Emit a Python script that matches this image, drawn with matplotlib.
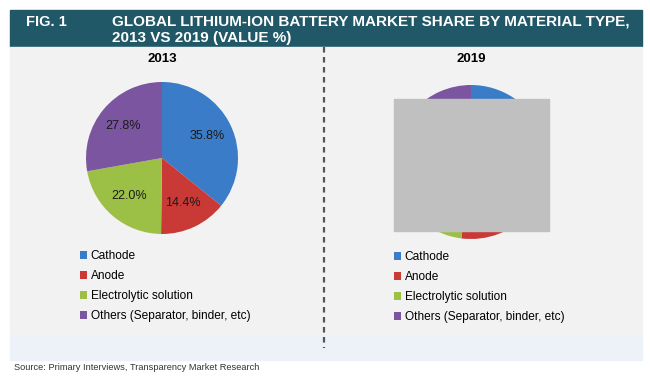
import numpy as np
import matplotlib.pyplot as plt
from matplotlib.patches import Rectangle

# --- Datos ---
categorias = ['Cathode', 'Anode', 'Electrolytic solution', 'Others (Separator, binder, etc)']
valores_2013 = [35.8, 14.4, 22.0, 27.8]
valores_2019 = [36.5, 15.5, 21.5, 26.5]  # oculto bajo el recuadro gris, estimado
colores = ['#3b7cc8', '#c93a36', '#9cc045', '#7b55a0']
anios = ['2013', '2019']

W, H = 650, 381
plt.rcParams['font.family'] = ['Liberation Sans', 'DejaVu Sans']

fig = plt.figure(figsize=(W / 100, H / 100), dpi=100)
fondo = fig.add_axes([0, 0, 1, 1])
fondo.set_xlim(0, W)
fondo.set_ylim(H, 0)
fondo.axis('off')

# cabecera
fondo.add_patch(Rectangle((10, 10), 632, 36, color='#215868'))
fondo.text(26, 22, 'FIG. 1', color='white', fontsize=10.5, fontweight='bold', va='center')
fondo.text(112, 22, 'GLOBAL LITHIUM-ION BATTERY MARKET SHARE BY MATERIAL TYPE,',
           color='white', fontsize=11, fontweight='bold', va='center')
fondo.text(112, 38, '2013 VS 2019 (VALUE %)', color='white', fontsize=11,
           fontweight='bold', va='center')

# panel
fondo.add_patch(Rectangle((10, 47), 632, 289, color='#f2f2f2'))
fondo.add_patch(Rectangle((10, 336), 632, 24, color='#edf1f8'))
fondo.plot([324, 324], [47, 348], color='#555555', lw=1.6, ls=(0, (2.5, 2)))

fondo.text(14, 367, 'Source: Primary Interviews, Transparency Market Research',
           fontsize=6.7, color='#333333', va='center')

# --- Pies ---
centros = [(162, 158, 76), (471, 162, 77)]
leyendas = [(80, 250), (394, 251)]
for anio, vals, (cx, cy, r), (lx, ly) in zip(anios, [valores_2013, valores_2019], centros, leyendas):
    ax = fig.add_axes([(cx - r) / W, 1 - (cy + r) / H, 2 * r / W, 2 * r / H])
    wedges, textos, autotextos = ax.pie(vals, colors=colores, startangle=90, counterclock=False,
                                        autopct='%.1f%%', pctdistance=0.66,
                                        textprops={'fontsize': 9, 'color': '#1a1a1a'})
    ax.set_xlim(-1, 1)
    ax.set_ylim(-1, 1)
    fondo.text(cx, 59, anio, fontsize=9.5, fontweight='bold', ha='center', va='center')
    fig.legend(wedges, categorias, loc='upper left',
               bbox_to_anchor=(lx / W, 1 - ly / H), frameon=False, fontsize=8.6,
               handlelength=0.6, handleheight=0.6, handletextpad=0.3,
               labelspacing=0.67, borderpad=0, borderaxespad=0)

# recuadro gris que tapa el pie de 2019
tapa = fig.add_axes([0, 0, 1, 1])
tapa.set_xlim(0, W)
tapa.set_ylim(H, 0)
tapa.axis('off')
tapa.add_patch(Rectangle((394, 99), 155, 132, color='#c0c0c0'))

plt.savefig('out.png', dpi=100)
